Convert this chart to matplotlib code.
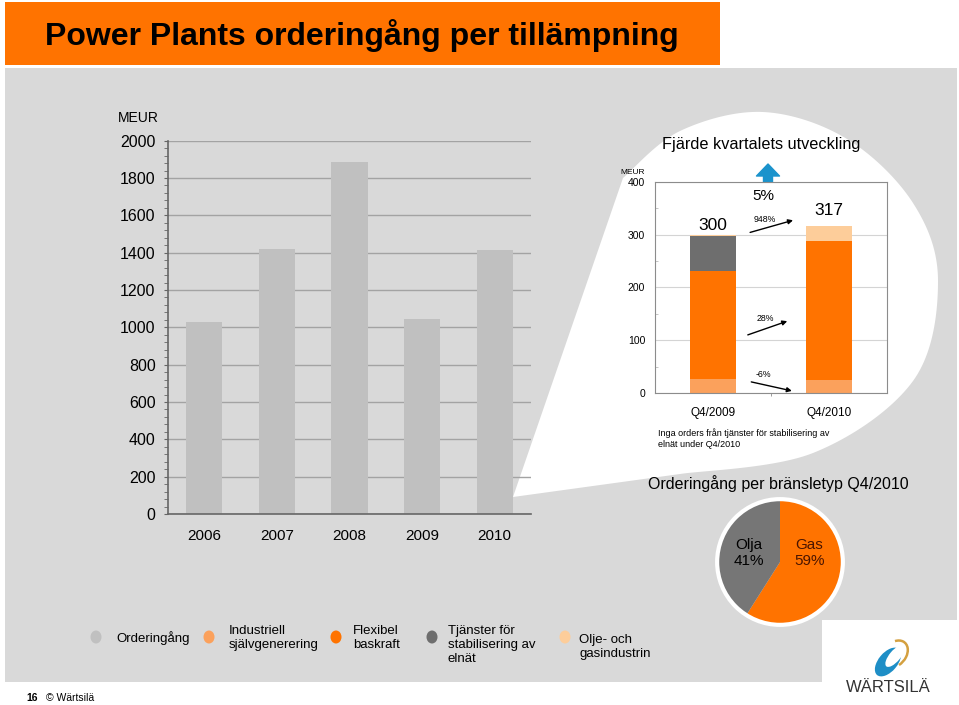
import numpy as np
import matplotlib
matplotlib.use('Agg')
import matplotlib.pyplot as plt
from matplotlib.patches import Polygon, Rectangle, Ellipse, Arc, Circle
from matplotlib.ticker import MultipleLocator

plt.rcParams['font.family'] = ['Liberation Sans', 'DejaVu Sans']

# --- data ---
years = ['2006', '2007', '2008', '2009', '2010']
orders = [1027, 1421, 1885, 1046, 1414]          # MEUR orderingång

quarters = ['Q4/2009', 'Q4/2010']
industriell = [27, 25]
flexibel = [204, 262]
tjanster = [66, 0]
olje_gas = [3, 30]
totals = [300, 317]

changes = ['948%', '28%', '-6%']
total_change = '5%'

fuel_names = ['Gas', 'Olja']
fuel_share = [59, 41]

legend_names = ['Orderingång', 'Industriell\nsjälvgenerering', 'Flexibel\nbaskraft',
                'Tjänster för\nstabilisering av\nelnät', 'Olje- och\ngasindustrin']

# --- colours ---
BG = '#d9d9d9'
ORANGE = '#ff7300'
C_ORDERS = '#c0c0c0'
C_IND = '#fba15c'
C_FLEX = '#ff7300'
C_TJ = '#6e6e6e'
C_OLJE = '#fdcd9a'
C_OLJA = '#767676'

W, H = 959, 705
fig = plt.figure(figsize=(W / 100, H / 100), dpi=100)
fig.patch.set_facecolor('white')


def px(x, y, w, h):
    # pixel box (top-left origin) -> figure fraction
    return [x / W, 1 - (y + h) / H, w / W, h / H]


def catmull_rom(pts, n=24):
    pts = np.asarray(pts, float)
    out = []
    for i in range(len(pts) - 1):
        p0 = pts[max(i - 1, 0)]
        p1 = pts[i]
        p2 = pts[i + 1]
        p3 = pts[min(i + 2, len(pts) - 1)]
        t = np.linspace(0, 1, n, endpoint=False)[:, None]
        seg = 0.5 * (2 * p1 + (-p0 + p2) * t + (2 * p0 - 5 * p1 + 4 * p2 - p3) * t ** 2
                     + (-p0 + 3 * p1 - 3 * p2 + p3) * t ** 3)
        out.append(seg)
    out.append(pts[-1:])
    return np.vstack(out)


# background layer in pixel coordinates
bg = fig.add_axes([0, 0, 1, 1], zorder=0)
bg.set_xlim(0, W)
bg.set_ylim(H, 0)
bg.axis('off')

bg.add_patch(Polygon([(5, 68), (957, 68), (957, 620), (822, 620), (822, 682), (5, 682)],
                     closed=True, facecolor=BG, edgecolor='none'))
bg.add_patch(Rectangle((5, 2), 715, 63, facecolor=ORANGE, edgecolor='none'))
bg.text(45, 35, 'Power Plants orderingång per tillämpning', fontsize=23, fontweight='bold',
        va='center', ha='left', color='black')

# white speech bubble behind the quarter chart
curve = catmull_rom([(680, 474), (813, 453), (913, 381), (938, 281), (913, 203),
                     (847, 139), (763, 112), (680, 131), (623, 178)])
blob = np.vstack([[(513, 497)], curve, [(513, 497)]])
bg.add_patch(Polygon(blob, closed=True, facecolor='white', edgecolor='none'))

# --- left chart: orderingång per år ---
ax = fig.add_axes(px(168, 140.7, 363, 373.3), zorder=1)
ax.set_facecolor('none')
x = np.arange(len(years))
ax.bar(x, orders, width=0.5, color=C_ORDERS, zorder=2)
ax.set_xlim(-0.5, len(years) - 0.5)
ax.set_ylim(0, 2000)
ax.yaxis.set_major_locator(MultipleLocator(200))
ax.yaxis.set_minor_locator(MultipleLocator(40))
ax.grid(axis='y', color='#a3a3a3', linewidth=1, zorder=0)
ax.set_axisbelow(True)
ax.set_xticks(x)
ax.set_xticklabels(years)
for s in ['top', 'right']:
    ax.spines[s].set_visible(False)
for s in ['left', 'bottom']:
    ax.spines[s].set_color('#666666')
    ax.spines[s].set_linewidth(1.2)
ax.tick_params(axis='y', which='major', labelsize=11.5, length=3, color='#666666', pad=6)
ax.tick_params(axis='y', which='minor', length=3, color='#666666')
ax.tick_params(axis='x', length=0, labelsize=11, pad=11)
bg.text(118, 118, 'MEUR', fontsize=10, va='center', ha='left')

# --- quarter chart ---
ax2 = fig.add_axes(px(655, 181.7, 232, 211.3), zorder=2)
ax2.set_facecolor('white')
q = np.arange(len(quarters))
bw = 0.4
bottom = np.zeros(len(quarters))
for vals, col in [(industriell, C_IND), (flexibel, C_FLEX), (tjanster, C_TJ), (olje_gas, C_OLJE)]:
    ax2.bar(q, vals, width=bw, bottom=bottom, color=col, zorder=2)
    bottom += np.array(vals)
ax2.set_xlim(-0.5, 1.5)
ax2.set_ylim(0, 400)
ax2.yaxis.set_major_locator(MultipleLocator(100))
ax2.yaxis.set_minor_locator(MultipleLocator(50))
ax2.grid(axis='y', color='#d4d4d4', linewidth=0.8, zorder=0)
ax2.set_axisbelow(True)
ax2.set_xticks(q)
ax2.set_xticklabels(quarters)
ax2.set_xticks([0.5], minor=True)
for s in ax2.spines.values():
    s.set_color('#8c8c8c')
    s.set_linewidth(0.8)
ax2.tick_params(axis='y', which='major', labelsize=7.5, length=0, pad=7)
ax2.tick_params(axis='y', which='minor', length=2, direction='in', color='#bbbbbb')
ax2.tick_params(axis='x', which='major', labelsize=8.5, length=0, pad=10)
ax2.tick_params(axis='x', which='minor', length=2.5, color='#8c8c8c')

for i, (tot, off) in enumerate(zip(totals, [18, 29])):
    ax2.text(i, tot + off, str(tot), ha='center', va='center', fontsize=12.5)
ax2.text(0.43, 372, total_change, ha='center', va='center', fontsize=11)

arrow_pos = [((0.32, 304), (0.69, 327), (0.45, 329)),
             ((0.30, 110), (0.64, 136), (0.45, 141)),
             ((0.33, 21), (0.68, 4), (0.43, 35))]
for lab, (start, end, tpos) in zip(changes, arrow_pos):
    ax2.annotate('', xy=end, xytext=start,
                 arrowprops=dict(arrowstyle='-|>', color='black', lw=1, mutation_scale=7,
                                 shrinkA=0, shrinkB=0))
    ax2.text(tpos[0], tpos[1], lab, ha='center', va='center', fontsize=6.3)

# blue up arrow above the 5%
bg.add_patch(Polygon([(768, 164), (779.5, 176), (772.5, 176), (772.5, 183),
                      (763.5, 183), (763.5, 176), (756.5, 176)],
                     closed=True, facecolor='#1b93cc', edgecolor='#1b93cc', linewidth=1,
                     joinstyle='round', zorder=3))

bg.text(761, 145, 'Fjärde kvartalets utveckling', ha='center', va='center', fontsize=11.7)
bg.text(645, 173, 'MEUR', ha='right', va='center', fontsize=6)
bg.text(658, 428, 'Inga orders från tjänster för stabilisering av\nelnät under Q4/2010',
        ha='left', va='top', fontsize=6.5, linespacing=1.35)

# --- pie: bränsletyp ---
bg.text(778, 484, 'Orderingång per bränsletyp Q4/2010', ha='center', va='center', fontsize=11.5)
ax3 = fig.add_axes(px(780 - 66, 562 - 66, 132, 132), zorder=2)
ax3.pie(fuel_share, colors=[ORANGE, C_OLJA], startangle=90, counterclock=False,
        radius=1.0, wedgeprops=dict(linewidth=0))
ax3.add_patch(Circle((0, 0), 1.0, fill=False, edgecolor='white', linewidth=3))
ax3.set_xlim(-1.05, 1.05)
ax3.set_ylim(-1.05, 1.05)
ax3.set_aspect('equal')
ax3.axis('off')
label_pos = [(0.47, 0.14), (-0.5, 0.14)]
label_col = ['#4a1500', 'black']
for name, share, pos, col in zip(fuel_names, fuel_share, label_pos, label_col):
    ax3.text(pos[0], pos[1], f'{name}\n{share}%', ha='center', va='center',
             fontsize=11, color=col, linespacing=1.15)

# --- legend ---
leg_colors = [C_ORDERS, C_IND, C_FLEX, C_TJ, C_OLJE]
leg_mx = [96, 209, 336, 432, 565]
leg_tx = [116, 229, 353, 448, 579]
leg_ty = [638, 638, 638, 645, 647]
for name, col, mx, tx, ty in zip(legend_names, leg_colors, leg_mx, leg_tx, leg_ty):
    bg.add_patch(Ellipse((mx, 637), 11, 13, facecolor=col, edgecolor='none'))
    bg.text(tx, ty, name, ha='left', va='center', fontsize=9.5, linespacing=1.2)

# --- logo + footer ---
bg.add_patch(Ellipse((888, 662), 34, 19, angle=-50, facecolor='#1e8ec6', edgecolor='none'))
bg.add_patch(Ellipse((895, 656), 27, 11, angle=-50, facecolor='white', edgecolor='none'))
bg.add_patch(Arc((895, 654), 30, 22, angle=-50, theta1=-40, theta2=120,
                 color='#d4a040', linewidth=1.8))
bg.text(888, 688, 'WÄRTSILÄ', ha='center', va='center', fontsize=12, color='#333333')
bg.text(26, 698, '16', ha='left', va='center', fontsize=7.5, fontweight='bold')
bg.text(46, 698, '© Wärtsilä', ha='left', va='center', fontsize=7.5)

fig.savefig('out.png', dpi=100, facecolor='white')
